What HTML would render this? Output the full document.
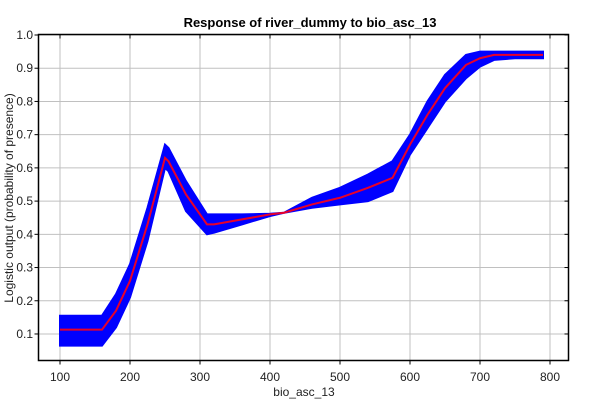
<!DOCTYPE html>
<html><head><meta charset="utf-8"><style>
body{margin:0;background:#fff;width:600px;height:400px;overflow:hidden;font-family:"Liberation Sans",sans-serif}
</style></head><body>
<svg id="chart" width="600" height="400" xmlns="http://www.w3.org/2000/svg"></svg>
<script>
const xs=[100,160,180,200,225,250,255,280,310,320,360,400,420,460,500,540,575,600,625,650,680,700,720,750,790];
const meanV=[0.113,0.113,0.17,0.26,0.43,0.63,0.62,0.52,0.43,0.43,0.445,0.46,0.465,0.49,0.51,0.54,0.57,0.67,0.76,0.84,0.91,0.93,0.94,0.94,0.94];
const upperV=[0.155,0.155,0.22,0.31,0.48,0.67,0.66,0.56,0.46,0.46,0.46,0.462,0.465,0.51,0.54,0.58,0.62,0.70,0.80,0.88,0.94,0.95,0.95,0.95,0.95];
const lowerV=[0.065,0.065,0.12,0.21,0.38,0.60,0.59,0.47,0.40,0.405,0.43,0.455,0.465,0.48,0.49,0.50,0.53,0.64,0.72,0.80,0.87,0.905,0.925,0.93,0.93];
const xTicks=[100,200,300,400,500,600,700,800];
const yTicks=[0.1,0.2,0.3,0.4,0.5,0.6,0.7,0.8,0.9,1.0];
const L=38.5,R=568.5,T=34.5,B=360.5;
const X=v=>60+(v-100)*0.7;
const Y=v=>35+(1-v)*332.2;
const svg=document.getElementById('chart');
const NS='http://www.w3.org/2000/svg';
function mk(t,a,txt){const e=document.createElementNS(NS,t);for(const k in a)e.setAttribute(k,a[k]);if(txt!==undefined)e.textContent=txt;svg.appendChild(e);return e;}
// grid
xTicks.forEach(v=>{const g=mk('line',{x1:X(v),x2:X(v),y1:T,y2:B,stroke:'#c0c0c0','stroke-width':1});


const t=mk('text',{x:X(v),y:381,'text-anchor':'middle','font-size':12,fill:'#222'},v);

});
yTicks.forEach(v=>{const g=mk('line',{x1:L,x2:R,y1:Y(v),y2:Y(v),stroke:'#c0c0c0','stroke-width':1});


const t=mk('text',{x:33,y:Y(v)+4,'text-anchor':'end','font-size':12,fill:'#222'},v.toFixed(1));

});
// band
let d='M'+xs.map((x,i)=>X(x)+','+Y(upperV[i])).join('L');
for(let i=xs.length-1;i>=0;i--)d+='L'+X(xs[i])+','+Y(lowerV[i]);
const band=mk('path',{d:d+'Z',fill:'#0000ff',stroke:'#0000ff','stroke-width':2});


const line=mk('polyline',{points:xs.map((x,i)=>X(x)+','+Y(meanV[i])).join(' '),fill:'none',stroke:'#e8002a','stroke-width':2});


// frame
const fr=mk('rect',{x:L,y:T,width:R-L,height:B-T,fill:'none',stroke:'#000','stroke-width':1.5});


xTicks.forEach(v=>{mk('line',{x1:X(v),x2:X(v),y1:T,y2:T+4,stroke:'#000'});mk('line',{x1:X(v),x2:X(v),y1:B,y2:B+4,stroke:'#000'});});
yTicks.forEach(v=>{mk('line',{x1:L-4,x2:L,y1:Y(v),y2:Y(v),stroke:'#000'});mk('line',{x1:R-4,x2:R,y1:Y(v),y2:Y(v),stroke:'#000'});});
const title=mk('text',{x:310,y:27,'text-anchor':'middle','font-size':13,'font-weight':'bold',fill:'#000'},'Response of river_dummy to bio_asc_13');


const xl=mk('text',{x:304,y:396,'text-anchor':'middle','font-size':12,fill:'#222'},'bio_asc_13');


const yl=mk('text',{x:0,y:0,'text-anchor':'middle','font-size':12,fill:'#222',transform:'translate(13,198) rotate(-90)'},'Logistic output (probability of presence)');


</script>
</body></html>
